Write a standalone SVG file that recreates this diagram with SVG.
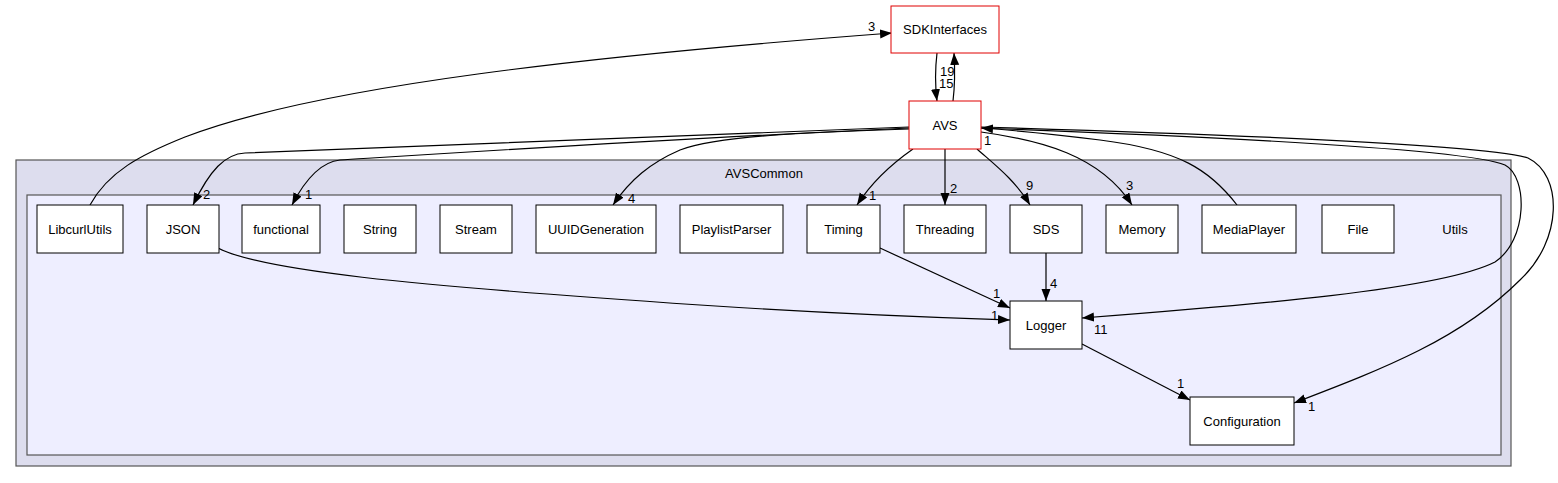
<svg xmlns="http://www.w3.org/2000/svg" width="1558" height="483" viewBox="0 0 1558 483">
<style>
text{font-family:"Liberation Sans",Arial,sans-serif;font-size:13px;fill:#000}
.node rect{fill:#fff;stroke:#000;stroke-width:1}
.node.red rect{stroke:#e00000}
.node text{text-anchor:middle}
.edges path{fill:none;stroke:#000;stroke-width:1.2}
.lbl{font-size:13px}
</style>
<defs>
<marker id="ah" markerUnits="userSpaceOnUse" markerWidth="13" markerHeight="10" refX="12" refY="4.5" orient="auto">
<path d="M0,0 L12,4.5 L0,9 z" fill="#000"/>
</marker>
</defs>
<rect width="1558" height="483" fill="#fff"/>
<g id="cluster-AVSCommon">
<rect x="16" y="160" width="1495" height="306" fill="#ddddee" stroke="#555" stroke-width="1.2"/>
<text x="764" y="178" text-anchor="middle">AVSCommon</text>
</g>
<g id="cluster-Utils">
<rect x="27" y="195" width="1474" height="260" fill="#eeeeff" stroke="#555" stroke-width="1.2"/>
<text x="1455" y="234" text-anchor="middle">Utils</text>
</g>
<g class="edges" id="connectors">
<path d="M90,205 C108,172 140,155 185,137 C320,85 600,55 892,33" marker-end="url(#ah)"/>
<text class="lbl" x="868" y="31">3</text>
<path d="M937,53 C935,70 935,85 937,101" marker-end="url(#ah)"/>
<path d="M953,101 C955,85 955,70 954,53" marker-end="url(#ah)"/>
<text class="lbl" x="940" y="76">19</text>
<text class="lbl" x="939" y="88">15</text>
<path d="M909,127 C600,140 320,150 245,153 C225,154 210,170 193,205" marker-end="url(#ah)"/>
<text class="lbl" x="203" y="199">2</text>
<path d="M909,128 C650,140 420,155 340,160 C320,162 305,180 292,205" marker-end="url(#ah)"/>
<text class="lbl" x="305" y="199">1</text>
<path d="M909,129 C820,132 720,135 680,150 C650,163 630,180 613,205" marker-end="url(#ah)"/>
<text class="lbl" x="628" y="203">4</text>
<path d="M913,149 C890,165 870,185 857,205" marker-end="url(#ah)"/>
<text class="lbl" x="869" y="200">1</text>
<path d="M945,149 L945,205" marker-end="url(#ah)"/>
<text class="lbl" x="950" y="193">2</text>
<path d="M977,149 C995,165 1015,180 1030,205" marker-end="url(#ah)"/>
<text class="lbl" x="1026" y="190">9</text>
<path d="M981,132 C1040,140 1100,155 1132,205" marker-end="url(#ah)"/>
<text class="lbl" x="1126" y="190">3</text>
<path d="M1237,205 C1210,170 1180,150 1100,140 C1060,135 1010,130 981,128" marker-end="url(#ah)"/>
<text class="lbl" x="984" y="145">1</text>
<path d="M981,128 C1250,138 1470,150 1505,165 C1528,177 1528,240 1495,262 C1440,290 1250,305 1082,318" marker-end="url(#ah)"/>
<text class="lbl" x="1094" y="334">11</text>
<path d="M981,127 C1250,135 1490,145 1528,158 C1563,175 1563,240 1520,280 C1460,340 1380,370 1294,403" marker-end="url(#ah)"/>
<text class="lbl" x="1308" y="411">1</text>
<path d="M218,248 C260,270 400,285 700,305 C850,315 950,318 1010,320" marker-end="url(#ah)"/>
<text class="lbl" x="991" y="320">1</text>
<path d="M880,248 L1010,308" marker-end="url(#ah)"/>
<text class="lbl" x="993" y="298">1</text>
<path d="M1046,253 L1046,301" marker-end="url(#ah)"/>
<text class="lbl" x="1050" y="288">4</text>
<path d="M1082,344 L1190,400" marker-end="url(#ah)"/>
<text class="lbl" x="1177" y="388">1</text>
</g>
<g id="node-SDKInterfaces" class="node red"><rect x="891" y="6" width="108" height="47"/><text x="945" y="34">SDKInterfaces</text></g>
<g id="node-AVS" class="node red"><rect x="909" y="101" width="72" height="48"/><text x="945" y="130">AVS</text></g>
<g id="node-LibcurlUtils" class="node"><rect x="37" y="205" width="86" height="48"/><text x="80" y="234">LibcurlUtils</text></g>
<g id="node-JSON" class="node"><rect x="147" y="205" width="72" height="48"/><text x="183" y="234">JSON</text></g>
<g id="node-functional" class="node"><rect x="242" y="205" width="78" height="48"/><text x="281" y="234">functional</text></g>
<g id="node-String" class="node"><rect x="344" y="205" width="72" height="48"/><text x="380" y="234">String</text></g>
<g id="node-Stream" class="node"><rect x="440" y="205" width="72" height="48"/><text x="476" y="234">Stream</text></g>
<g id="node-UUIDGeneration" class="node"><rect x="536" y="205" width="120" height="48"/><text x="596" y="234">UUIDGeneration</text></g>
<g id="node-PlaylistParser" class="node"><rect x="680" y="205" width="103" height="48"/><text x="731.5" y="234">PlaylistParser</text></g>
<g id="node-Timing" class="node"><rect x="807" y="205" width="73" height="48"/><text x="843.5" y="234">Timing</text></g>
<g id="node-Threading" class="node"><rect x="904" y="205" width="82" height="48"/><text x="945" y="234">Threading</text></g>
<g id="node-SDS" class="node"><rect x="1010" y="205" width="72" height="48"/><text x="1046" y="234">SDS</text></g>
<g id="node-Memory" class="node"><rect x="1106" y="205" width="72" height="48"/><text x="1142" y="234">Memory</text></g>
<g id="node-MediaPlayer" class="node"><rect x="1202" y="205" width="94" height="48"/><text x="1249" y="234">MediaPlayer</text></g>
<g id="node-File" class="node"><rect x="1322" y="205" width="72" height="48"/><text x="1358" y="234">File</text></g>
<g id="node-Logger" class="node"><rect x="1010" y="301" width="72" height="48"/><text x="1046" y="330">Logger</text></g>
<g id="node-Configuration" class="node"><rect x="1190" y="397" width="104" height="48"/><text x="1242" y="426">Configuration</text></g>
</svg>
